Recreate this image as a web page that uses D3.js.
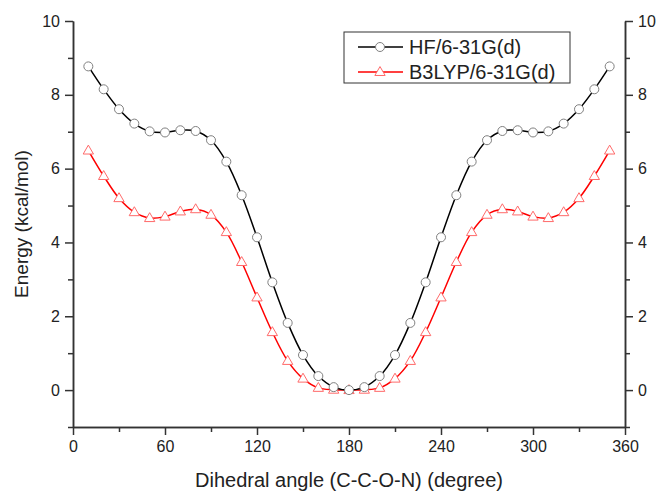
<!DOCTYPE html>
<html>
<head>
<meta charset="utf-8">
<script src="https://cdn.jsdelivr.net/npm/d3@7"></script>
<style>
  body { margin: 0; background: #fff; }
  text { font-family: "Liberation Sans", Arial, sans-serif; fill: #222; }
</style>
</head>
<body>
<div id="container"></div>
<script>
var angles = [10,20,30,40,50,60,70,80,90,100,110,120,130,140,150,160,170,180,
              190,200,210,220,230,240,250,260,270,280,290,300,310,320,330,340,350]
var hf = [8.77,8.15,7.61,7.22,7.01,6.98,7.04,7.02,6.77,6.19,5.28,4.14,2.92,1.82,0.95,0.38,0.08,0,
          0.08,0.38,0.95,1.82,2.92,4.14,5.28,6.19,6.77,7.02,7.04,6.98,7.01,7.22,7.61,8.15,8.77]
var b3lyp = [6.49,5.80,5.20,4.82,4.66,4.70,4.84,4.90,4.75,4.28,3.47,2.51,1.57,0.79,0.31,0.06,0.01,0,
             0.01,0.06,0.31,0.79,1.57,2.51,3.47,4.28,4.75,4.90,4.84,4.70,4.66,4.82,5.20,5.80,6.49]
var xTicks = [0,60,120,180,240,300,360]
var yTicks = [0,2,4,6,8,10]
var seriesNames = ['HF/6-31G(d)', 'B3LYP/6-31G(d)']

var W = 659, H = 491
var plotL = 73, plotR = 625, plotT = 21, plotB = 427

var svg = d3.select('#container').append('svg')
    .attr('width', W)
    .attr('height', H)

var x = d3.scaleLinear().domain([0, 360]).range([plotL, plotR])
var y = d3.scaleLinear().domain([-1, 10]).range([plotB, plotT])

// axes
function styleAxis(g) {
    g.selectAll('.domain').attr('stroke', '#333').attr('stroke-width', 1.5)
    g.selectAll('.tick line').attr('stroke', '#333').attr('stroke-width', 1.5)
    g.selectAll('text').style('font-size', '16px').attr('fill', '#222')
}

var xMinor = d3.range(30, 360, 60)
var yMinor = d3.range(-1, 10, 2)

svg.append('g').attr('transform', 'translate(0,' + plotB + ')')
    .call(d3.axisBottom(x).tickValues(xMinor).tickSize(5).tickSizeOuter(0).tickFormat(''))
    .call(styleAxis)
svg.append('g').attr('transform', 'translate(0,' + plotB + ')')
    .call(d3.axisBottom(x).tickValues(xTicks).tickSize(8).tickSizeOuter(0).tickPadding(6))
    .call(styleAxis)

svg.append('g').attr('transform', 'translate(' + plotL + ',0)')
    .call(d3.axisLeft(y).tickValues(yMinor).tickSize(5).tickSizeOuter(0).tickFormat(''))
    .call(styleAxis)
svg.append('g').attr('transform', 'translate(' + plotL + ',0)')
    .call(d3.axisLeft(y).tickValues(yTicks).tickSize(8).tickSizeOuter(0).tickPadding(5))
    .call(styleAxis)

svg.append('g').attr('transform', 'translate(' + plotR + ',0)')
    .call(d3.axisRight(y).tickValues(yMinor).tickSize(5).tickSizeOuter(0).tickFormat(''))
    .call(styleAxis)
svg.append('g').attr('transform', 'translate(' + plotR + ',0)')
    .call(d3.axisRight(y).tickValues(yTicks).tickSize(8).tickSizeOuter(0).tickPadding(5))
    .call(styleAxis)

// axis titles
svg.append('text')
    .attr('x', (plotL + plotR) / 2)
    .attr('y', 487)
    .attr('text-anchor', 'middle')
    .style('font-size', '20px')
    .text('Dihedral angle (C-C-O-N) (degree)')

svg.append('text')
    .attr('transform', 'translate(28,' + ((plotT + plotB) / 2) + ') rotate(-90)')
    .attr('text-anchor', 'middle')
    .style('font-size', '19px')
    .text('Energy (kcal/mol)')

// series
var line = d3.line()
    .x(d => x(d[0]))
    .y(d => y(d[1]))
    .curve(d3.curveCatmullRom.alpha(0.5))

var triangle = d3.symbol().type(d3.symbolTriangle).size(46)

var hfData = angles.map((a, i) => [a, hf[i]])
var b3Data = angles.map((a, i) => [a, b3lyp[i]])

svg.append('path').datum(b3Data)
    .attr('d', line).attr('fill', 'none').attr('stroke', '#ff0000').attr('stroke-width', 1.5)
svg.append('path').datum(hfData)
    .attr('d', line).attr('fill', 'none').attr('stroke', '#000').attr('stroke-width', 1.5)

svg.selectAll('.tri').data(b3Data).enter().append('path')
    .attr('class', 'tri')
    .attr('d', triangle)
    .attr('transform', d => 'translate(' + x(d[0]) + ',' + (y(d[1]) + 0.5) + ')')
    .attr('fill', '#fff').attr('stroke', '#ff6a6a').attr('stroke-width', 1)

svg.selectAll('.circ').data(hfData).enter().append('circle')
    .attr('class', 'circ')
    .attr('cx', d => x(d[0]))
    .attr('cy', d => y(d[1]))
    .attr('r', 4.5)
    .attr('fill', '#fff').attr('stroke', '#808080').attr('stroke-width', 1)

// legend
var lg = svg.append('g')
lg.append('rect')
    .attr('x', 344).attr('y', 32).attr('width', 226).attr('height', 51)
    .attr('fill', '#fff').attr('stroke', '#333').attr('stroke-width', 1)

var legendRows = [
    {name: seriesNames[0], color: '#000', mark: '#808080', type: 'circle', yy: 47},
    {name: seriesNames[1], color: '#ff0000', mark: '#ff6a6a', type: 'tri', yy: 72}
]
legendRows.forEach(function(r) {
    lg.append('line').attr('x1', 358).attr('x2', 403).attr('y1', r.yy).attr('y2', r.yy)
        .attr('stroke', r.color).attr('stroke-width', 1.5)
    if (r.type === 'circle') {
        lg.append('circle').attr('cx', 380).attr('cy', r.yy).attr('r', 4.5)
            .attr('fill', '#fff').attr('stroke', r.mark)
    } else {
        lg.append('path').attr('d', triangle)
            .attr('transform', 'translate(380,' + (r.yy + 0.5) + ')')
            .attr('fill', '#fff').attr('stroke', r.mark)
    }
    lg.append('text').attr('x', 409).attr('y', r.yy + 7)
        .style('font-size', '20px')
        .text(r.name)
})
</script>
</body>
</html>
